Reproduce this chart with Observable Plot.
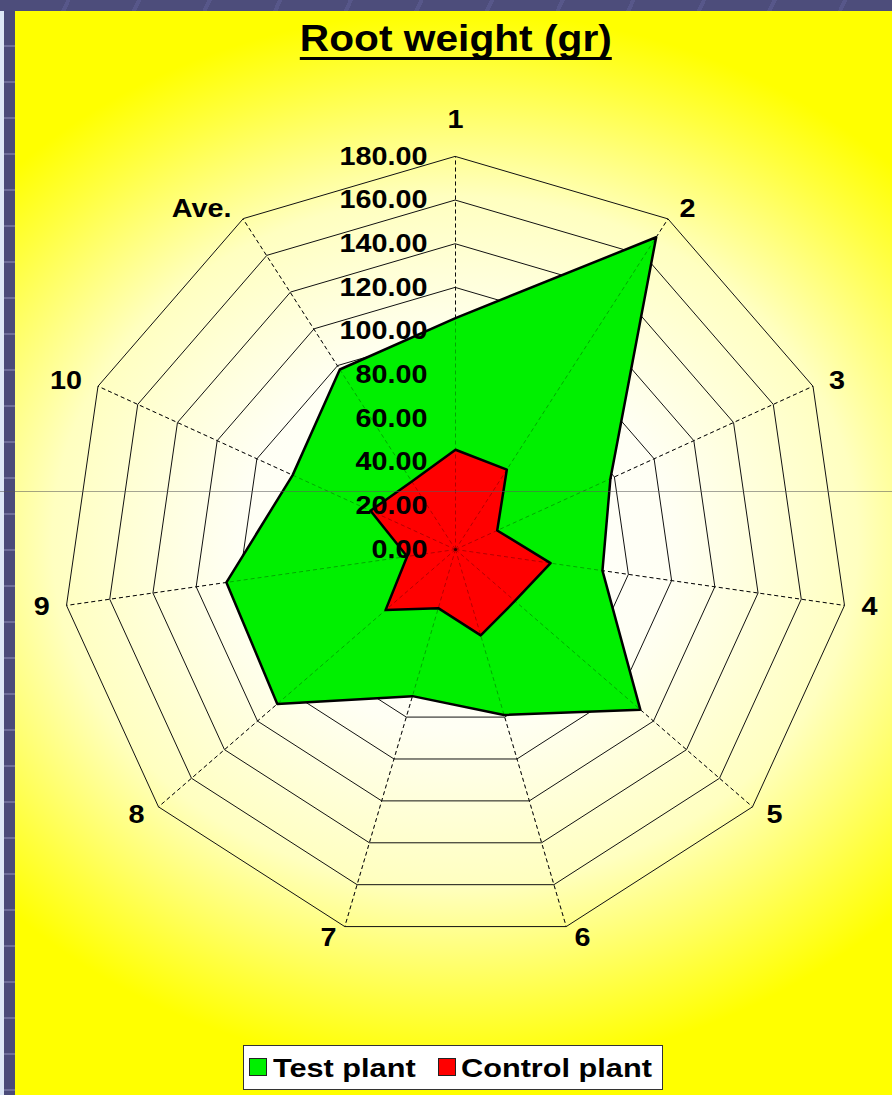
<!DOCTYPE html>
<html><head><meta charset="utf-8">
<script src="https://cdn.jsdelivr.net/npm/d3@7"></script>
<script src="https://cdn.jsdelivr.net/npm/@observablehq/plot@0.6"></script>
<style>
html,body{margin:0;padding:0;}
body{width:892px;height:1095px;overflow:hidden;position:relative;background:#4e4e7c;font-family:"Liberation Sans",Arial,sans-serif;}
#topband{position:absolute;left:0;top:0;width:892px;height:11px;background:repeating-linear-gradient(115deg,#4d4d7b 0 60px,#57578a 60px 64px);}
#stripLight{position:absolute;left:0;top:11px;width:4px;height:1084px;background:#dde7f6;}
#strip{position:absolute;left:4px;top:11px;width:11px;height:1084px;background:repeating-linear-gradient(180deg,#4b4b79 0 34px,#6e6e9a 34px 36px);}
#panel{position:absolute;left:15px;top:11px;width:877px;height:1084px;background:radial-gradient(ellipse 620px 530px at 440px 530px,#ffffff 0%,#fffff4 35%,#ffffc0 65%,#ffff40 88%,#ffff00 100%);}
#title{position:absolute;left:0;top:20px;width:912px;text-align:center;font-size:37px;line-height:37px;font-weight:bold;color:#000;}
#title span{display:inline-block;transform:scaleX(1.1);text-decoration:underline;text-decoration-thickness:3px;text-underline-offset:6px;text-decoration-skip-ink:none;}
#chart{position:absolute;left:0;top:90px;}
#hline{position:absolute;left:0;top:491px;width:892px;height:1px;background:rgba(90,90,90,0.55);z-index:5;}
#legend{position:absolute;left:243px;top:1045px;width:420px;height:45px;background:#fff;border:1.5px solid #333;box-sizing:border-box;}
.sw{position:absolute;top:1058px;width:18px;height:18px;box-sizing:border-box;border:1.5px solid #222;}
.lt{position:absolute;top:1055px;font-size:26px;line-height:26px;font-weight:bold;color:#000;transform:scaleX(1.18);transform-origin:0 50%;white-space:nowrap;}
</style></head>
<body>
<div id="topband"></div><div id="stripLight"></div><div id="strip"></div>
<div id="panel"></div>
<div id="title"><span>Root weight (gr)</span></div>
<div id="chart"></div>
<div id="hline"></div>
<div id="legend"></div>
<script>
const categories = ["1","2","3","4","5","6","7","8","9","10","Ave."];
const testPlant = [106,170,78,68,112,79,70,108,106,82,98];
const controlPlant = [45.7,43.5,21,44,36,41,28,42.4,22.4,42.8,37];
const tickValues = [0,20,40,60,80,100,120,140,160,180];
const tickLabels = ["0.00","20.00","40.00","60.00","80.00","100.00","120.00","140.00","160.00","180.00"];
const seriesNames = ["Test plant","Control plant"];
const seriesColors = ["#00f000","#ff0000"];

const W = 892, H = 940, cx = 455, cy = 459, maxVal = 180, Rpx = 393;
const k = Rpx / maxVal;
const n = categories.length;
const ang = i => 2 * Math.PI * i / n;
const polar = (v, i) => ({x: v * Math.sin(ang(i)), y: v * Math.cos(ang(i))});

const rings = tickValues.filter(v => v > 0).flatMap(v => categories.map((c, i) => ({ring: v, ...polar(v, i)})));
const spokes = categories.map((c, i) => ({x1: 0, y1: 0, x2: polar(maxVal, i).x, y2: polar(maxVal, i).y}));
const testPts = testPlant.map((v, i) => polar(v, i));
const ctrlPts = controlPlant.map((v, i) => polar(v, i));
const labelPts = categories.map((c, i) => {
  const s = Math.sin(ang(i));
  return {label: c, ...polar(maxVal + 12 / k, i), side: Math.abs(s) < 1e-6 ? "top" : (s > 0 ? "right" : "left")};
});
const tickPts = tickValues.map((v, j) => ({x: 0, y: v, label: tickLabels[j]}));
const font = {fontSize: 25, fontWeight: "bold", fill: "#000"};

const chart = Plot.plot({
  width: W, height: H, margin: 0,
  x: {domain: [-cx / k, (W - cx) / k], range: [0, W], axis: null},
  y: {domain: [-(H - cy) / k, cy / k], range: [H, 0], axis: null},
  style: {background: "transparent", fontFamily: "'Liberation Sans', Arial, sans-serif", overflow: "visible"},
  marks: [
    Plot.line(rings, {x: "x", y: "y", z: "ring", curve: "linear-closed", stroke: "#111", strokeWidth: 1}),
    Plot.link(spokes, {x1: "x1", y1: "y1", x2: "x2", y2: "y2", stroke: "#111", strokeWidth: 1, strokeDasharray: "4,3"}),
    Plot.line(testPts, {x: "x", y: "y", curve: "linear-closed", fill: seriesColors[0], stroke: "#000", strokeWidth: 2.5}),
    Plot.line(ctrlPts, {x: "x", y: "y", curve: "linear-closed", fill: seriesColors[1], stroke: "#000", strokeWidth: 2.5}),
    Plot.link(spokes, {x1: "x1", y1: "y1", x2: "x2", y2: "y2", stroke: "#000", strokeOpacity: 0.3, strokeWidth: 1, strokeDasharray: "4,3"}),
    Plot.dot([{x: 0, y: 0}], {x: "x", y: "y", r: 1.6, fill: "#300", stroke: null}),
    Plot.text(tickPts, {x: "x", y: "y", text: "label", textAnchor: "end", dx: -28, ...font}),
    Plot.text(labelPts.filter(d => d.side === "right"), {x: "x", y: "y", text: "label", textAnchor: "start", dx: 5, ...font}),
    Plot.text(labelPts.filter(d => d.side === "left"), {x: "x", y: "y", text: "label", textAnchor: "end", dx: -5, ...font}),
    Plot.text(labelPts.filter(d => d.side === "top"), {x: "x", y: "y", text: "label", textAnchor: "middle", dy: -25, ...font})
  ]
});
document.getElementById("chart").appendChild(chart);
d3.select(chart).selectAll("text").each(function() {
  const w = this.getComputedTextLength();
  this.setAttribute("textLength", w * 1.15);
  this.setAttribute("lengthAdjust", "spacingAndGlyphs");
});

// legend
const legendLayout = [{sw: 249, tx: 273}, {sw: 438, tx: 461}];
seriesNames.forEach((name, i) => {
  const sw = document.createElement("div");
  sw.className = "sw"; sw.style.left = legendLayout[i].sw + "px"; sw.style.background = seriesColors[i];
  document.body.appendChild(sw);
  const t = document.createElement("div");
  t.className = "lt"; t.style.left = legendLayout[i].tx + "px"; t.textContent = name;
  document.body.appendChild(t);
});
</script>
</body></html>
